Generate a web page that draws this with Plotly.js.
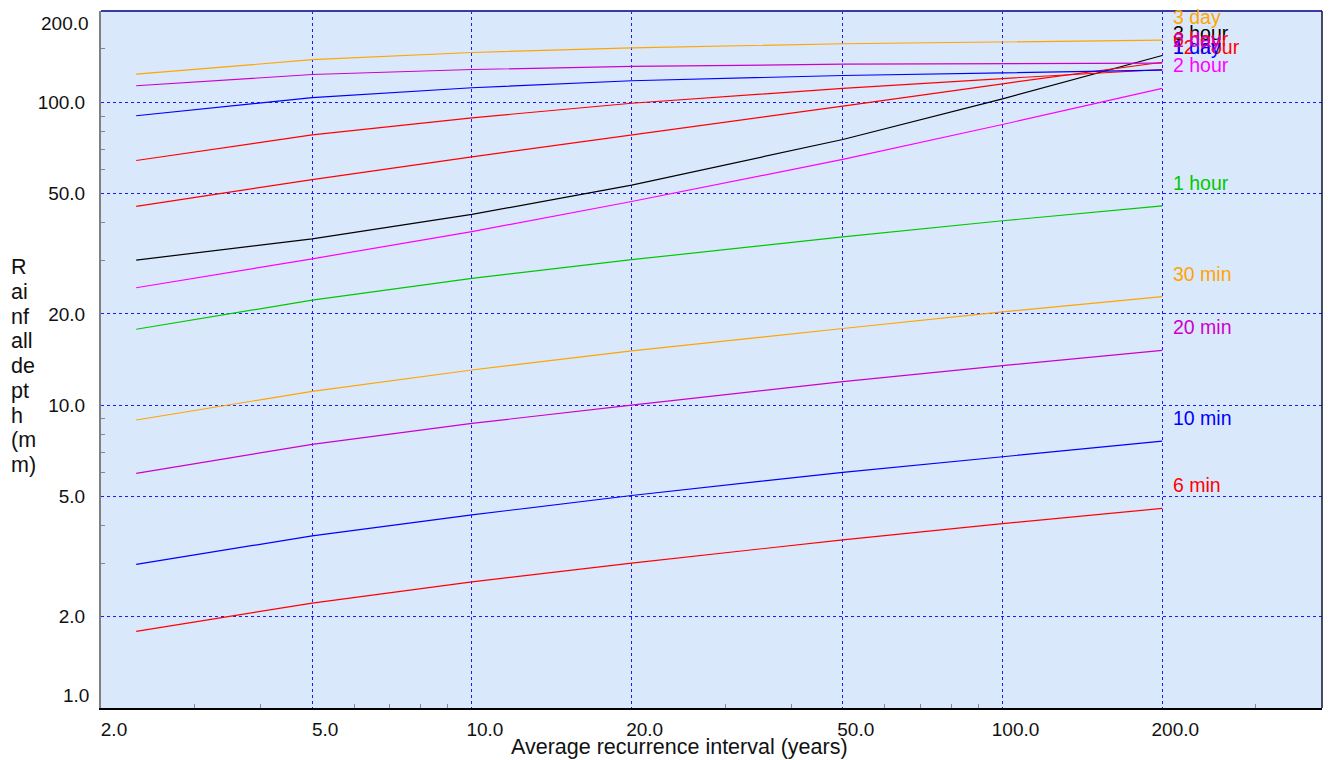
<!DOCTYPE html>
<html>
<head>
<meta charset="utf-8">
<script src="https://cdn.plot.ly/plotly-3.0.1.min.js"></script>
<style>
  html, body { margin: 0; padding: 0; background: #ffffff; }
  #chart { width: 1331px; height: 760px; }
</style>
</head>
<body>
<div id="chart"></div>
<script>
// Average recurrence interval (years)
const ari = [2.33, 5, 10, 20, 50, 100, 200];

// Rainfall depth (mm) per duration
const names = ["6 min", "10 min", "20 min", "30 min", "1 hour", "2 hour", "3 hour", "6 hour", "12 hour", "1 day", "2 day", "3 day"];
const depth_6min   = [1.79, 2.22, 2.61, 3.01, 3.59, 4.06, 4.56];
const depth_10min  = [2.98, 3.70, 4.34, 5.03, 6.00, 6.75, 7.60];
const depth_20min  = [5.95, 7.42, 8.70, 10.0, 11.95, 13.5, 15.15];
const depth_30min  = [8.93, 11.1, 13.06, 15.1, 17.9, 20.3, 22.8];
const depth_1hour  = [17.8, 22.2, 26.2, 30.2, 35.9, 40.6, 45.5];
const depth_2hour  = [24.4, 30.4, 37.4, 47.0, 64.7, 84.4, 111.0];
const depth_3hour  = [30.1, 35.4, 42.6, 53.2, 75.3, 102.6, 142.6];
const depth_6hour  = [45.3, 55.5, 66.0, 77.8, 97.0, 115.0, 135.5];
const depth_12hour = [64.2, 78.0, 88.8, 99.2, 111.0, 119.7, 128.2];
const depth_1day   = [90.2, 103.6, 111.6, 117.7, 122.5, 125.3, 127.5];
const depth_2day   = [113.3, 123.4, 128.2, 131.2, 133.5, 134.2, 134.5];
const depth_3day   = [123.7, 138.1, 145.9, 151.2, 155.9, 158.3, 160.3];

const seriesValues = [depth_6min, depth_10min, depth_20min, depth_30min, depth_1hour, depth_2hour,
                      depth_3hour, depth_6hour, depth_12hour, depth_1day, depth_2day, depth_3day];
const colors = ["#ff0000", "#0000ff", "#cc00cc", "#ffa500", "#00c800", "#ff00ff",
                "#000000", "#ff0000", "#ff0000", "#0000ff", "#cc00cc", "#ffa500"];

// Tick labels
const xTickVals = [2, 5, 10, 20, 50, 100, 200];
const xTickText = ["2.0", "5.0", "10.0", "20.0", "50.0", "100.0", "200.0"];
const yTickVals = [2, 5, 10, 20, 50, 100];
const yTickText = ["2.0", "5.0", "10.0", "20.0", "50.0", "100.0"];
const yEdgeLow = {v: 1, t: "1.0"};
const yEdgeHigh = {v: 200, t: "200.0"};
const xMinor = [3, 4, 6, 7, 8, 9, 30, 40, 60, 70, 80, 90, 300];
const yMinor = [3, 4, 6, 7, 8, 9, 30, 40, 60, 70, 80, 90, 150];

// Axis titles (y title wrapped into chunks as in the original)
const xTitle = "Average recurrence interval (years)";
const yTitleChunks = ["R", "ai", "nf", "all", "de", "pt", "h", "(m", "m)"];

const FONT = "Arial, 'Liberation Sans', sans-serif";
const FS = 19;
const FS_TITLE = 21.5;

const traces = seriesValues.map((vals, i) => ({
  type: "scatter",
  mode: "lines",
  x: ari,
  y: vals,
  name: names[i],
  line: {color: colors[i], width: 1.2},
  hoverinfo: "x+y+name"
}));

const annotations = [];
// end-of-line labels
seriesValues.forEach((vals, i) => {
  annotations.push({
    xref: "x", yref: "y",
    x: Math.log10(ari[ari.length - 1]),
    y: Math.log10(vals[vals.length - 1]),
    text: names[i],
    showarrow: false,
    xanchor: "left", yanchor: "middle",
    xshift: 9, yshift: 23,
    font: {family: FONT, size: 19.5, color: colors[i]}
  });
});
// y edge tick labels (kept inside the plot's height as in the original)
annotations.push({
  xref: "paper", yref: "y", x: 0, y: Math.log10(yEdgeLow.v), text: yEdgeLow.t,
  showarrow: false, xanchor: "right", yanchor: "middle", xshift: -10, yshift: 13,
  font: {family: FONT, size: FS, color: "#111111"}
});
annotations.push({
  xref: "paper", yref: "y", x: 0, y: Math.log10(yEdgeHigh.v), text: yEdgeHigh.t,
  showarrow: false, xanchor: "right", yanchor: "middle", xshift: -10, yshift: -12,
  font: {family: FONT, size: FS, color: "#111111"}
});
// x axis title
annotations.push({
  xref: "paper", yref: "paper", x: 0.4742, y: -0.056,
  text: xTitle,
  showarrow: false, xanchor: "center", yanchor: "middle",
  font: {family: FONT, size: FS_TITLE, color: "#111111"}
});
// y axis title, one chunk per line
const plotTop = 11, plotH = 697, firstLineY = 267, lineStep = 24.75;
yTitleChunks.forEach((chunk, i) => {
  const ypx = firstLineY + i * lineStep;
  annotations.push({
    xref: "paper", yref: "paper", x: -0.0753, y: (plotTop + plotH - ypx) / plotH,
    text: chunk,
    showarrow: false, xanchor: "left", yanchor: "middle", align: "left",
    font: {family: FONT, size: FS_TITLE, color: "#111111"}
  });
});

const layout = {
  width: 1331,
  height: 760,
  margin: {l: 101, r: 9, t: 11, b: 52, pad: 0},
  paper_bgcolor: "#ffffff",
  plot_bgcolor: "#dae8fc",
  showlegend: false,
  font: {family: FONT, size: FS, color: "#111111"},
  xaxis: {
    type: "log",
    range: [Math.log10(2), Math.log10(400)],
    tickvals: xTickVals,
    ticktext: xTickText,
    ticks: "",
    ticklabelshift: 13,
    ticklabelstandoff: 4,
    tickfont: {family: FONT, size: FS, color: "#111111"},
    showgrid: true,
    gridcolor: "#1a1aff",
    griddash: "dot",
    gridwidth: 1,
    zeroline: false,
    showline: true,
    linecolor: "#000000",
    linewidth: 1.5,
    minor: {tickvals: xMinor, ticks: "inside", ticklen: 4, tickcolor: "#888888", tickwidth: 1, showgrid: false}
  },
  yaxis: {
    type: "log",
    range: [0, Math.log10(200)],
    tickvals: yTickVals,
    ticktext: yTickText,
    ticks: "",
    ticklabelstandoff: 10,
    tickfont: {family: FONT, size: FS, color: "#111111"},
    showgrid: true,
    gridcolor: "#1a1aff",
    griddash: "dot",
    gridwidth: 1,
    zeroline: false,
    showline: true,
    linecolor: "#808080",
    linewidth: 2,
    minor: {tickvals: yMinor, ticks: "inside", ticklen: 4, tickcolor: "#888888", tickwidth: 1, showgrid: false}
  },
  shapes: [
    {type: "line", xref: "paper", yref: "paper", x0: 0, x1: 1, y0: 1, y1: 1,
     line: {color: "#3a3aa0", width: 2}},
    {type: "line", xref: "paper", yref: "paper", x0: 1, x1: 1, y0: 0, y1: 1,
     line: {color: "#111133", width: 1.5}}
  ],
  annotations: annotations
};

Plotly.newPlot("chart", traces, layout, {displayModeBar: false, staticPlot: true});
</script>
</body>
</html>
